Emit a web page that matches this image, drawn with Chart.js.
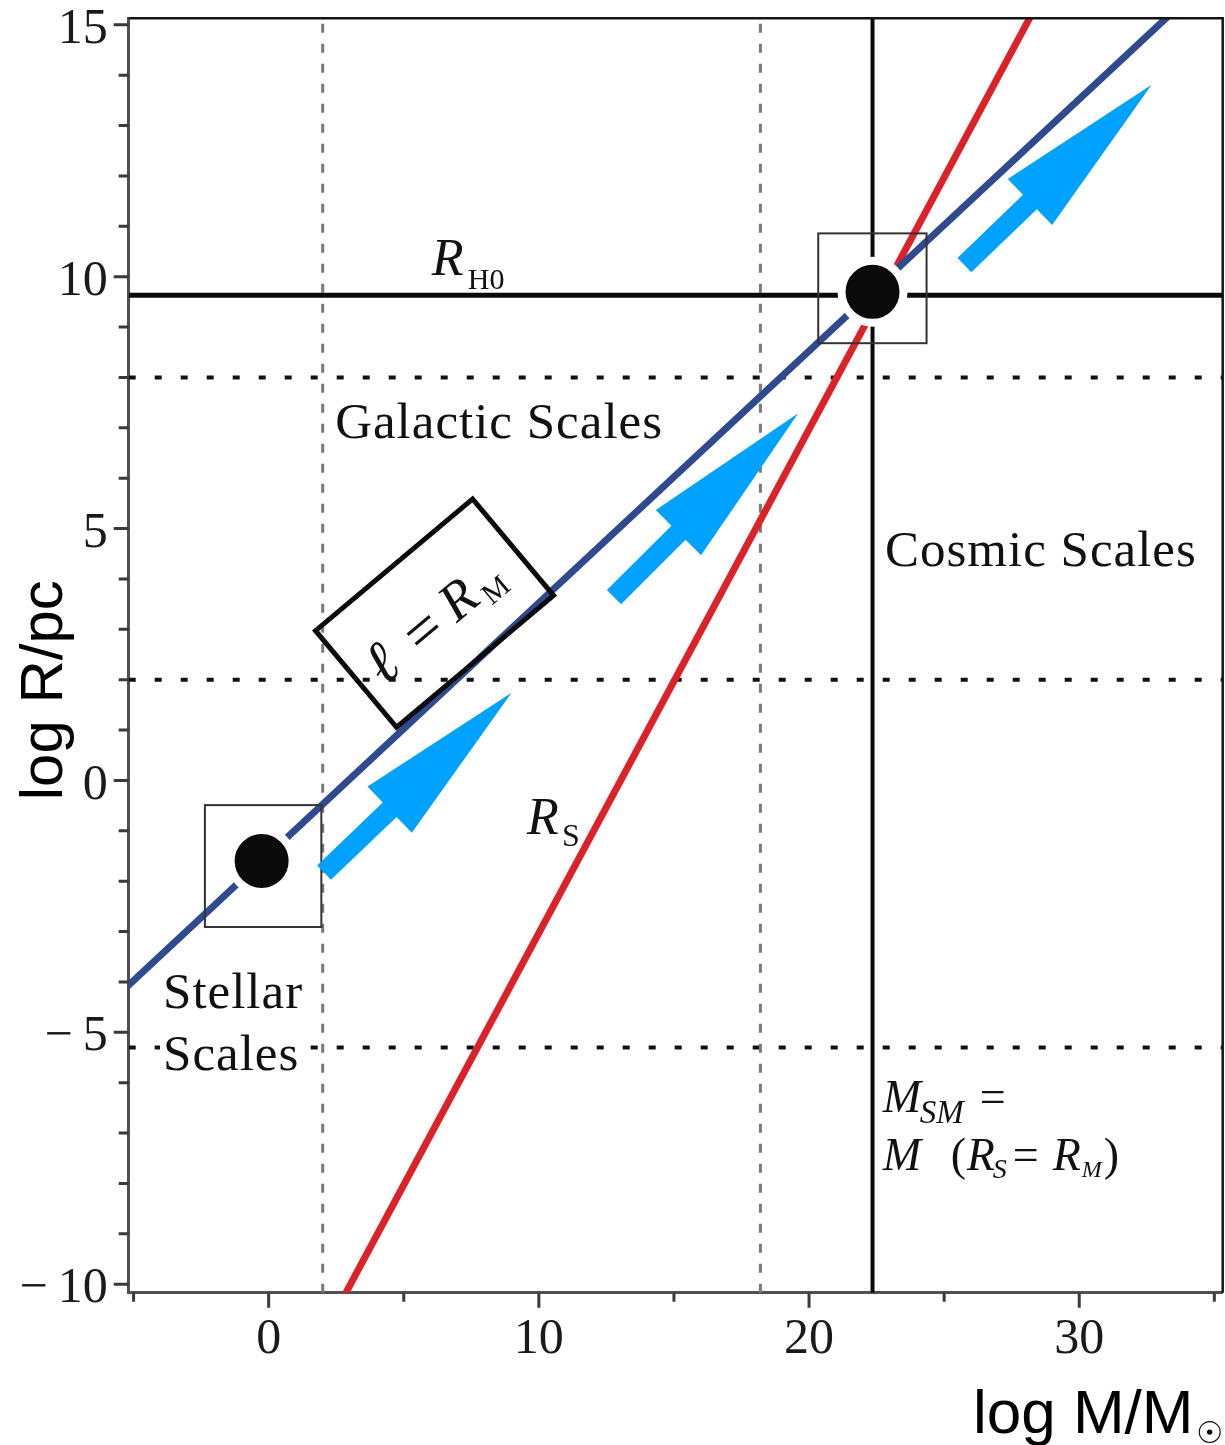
<!DOCTYPE html>
<html><head><meta charset="utf-8">
<script src="https://cdn.jsdelivr.net/npm/chart.js@4.4.0/dist/chart.umd.min.js"></script>
<style>html,body{margin:0;padding:0;background:#fff;}#wrap{width:1225px;height:1445px;}</style>
</head><body><div id="wrap"><canvas id="c" width="1225" height="1445"></canvas></div>
<script>
// ---- data ----
const xRange = [-5.18, 35.31];
const yRange = [-10.17, 15.13];
const xMajorTicks = [0, 10, 20, 30];
const xMinorTicks = [-5, 5, 15, 25, 35];
const yMajorTicks = [-10, -5, 0, 5, 10, 15];
const yMinorTicks = [-9, -8, -7, -6, -4, -3, -2, -1, 1, 2, 3, 4, 6, 7, 8, 9, 11, 12, 13, 14];
const rmLineX = [-6, 36];
const rmLineY = [-4.475, 16.525];
const rsLineX = [2.5, 28.5];
const rsLineY = [-10.53, 15.47];
const hubbleRadius = 9.63;
const smMass = 22.35;
const scaleBoundaryMass = [2, 18.2];
const scaleBoundaryRadius = [8, 2, -5.3];
const keyPointX = [-0.26, 22.35];
const keyPointY = [-1.6, 9.7];
const squareX0 = [-2.36, 20.34];
const squareX1 = [1.95, 24.35];
const squareY0 = [-2.91, 8.68];
const squareY1 = [-0.49, 10.86];
const arrowTailX = [2.05, 12.78, 25.75];
const arrowTailY = [-1.83, 3.64, 10.23];
const arrowTipX = [8.99, 19.60, 32.68];
const arrowTipY = [1.74, 7.29, 13.81];
const labelBoxCenter = [6.14, 3.32];

const SERIF = "'Liberation Serif', 'DejaVu Serif', serif";
const SANS = "'Liberation Sans', Arial, sans-serif";

function pts(xs, ys) { return xs.map((x, i) => ({x: x, y: ys[i]})); }
function fmt(v) { return v < 0 ? '\u2212\u2009' + Math.abs(v) : String(v); }

const lineBase = {showLine: true, pointRadius: 0, clip: 0, fill: false, tension: 0};
const datasets = [
  {data: pts(keyPointX, keyPointY), showLine: false, pointRadius: 31, pointBackgroundColor: '#0a0a0a',
   pointBorderColor: '#ffffff', pointBorderWidth: 8, clip: false},
  Object.assign({data: pts(rmLineX, rmLineY), borderColor: '#2f4a8f', borderWidth: 7}, lineBase),
  Object.assign({data: pts(rsLineX, rsLineY), borderColor: '#dc2229', borderWidth: 7}, lineBase),
  Object.assign({data: pts([xRange[0], xRange[1]], [hubbleRadius, hubbleRadius]), borderColor: '#0a0a0a', borderWidth: 5}, lineBase),
  Object.assign({data: pts([smMass, smMass], [yRange[0], yRange[1]]), borderColor: '#0a0a0a', borderWidth: 4}, lineBase)
];
scaleBoundaryMass.forEach(m => datasets.push(Object.assign({data: pts([m, m], [yRange[0], yRange[1]]),
  borderColor: '#7a7a7a', borderWidth: 3, borderDash: [9, 11]}, lineBase)));
scaleBoundaryRadius.forEach(r => datasets.push(Object.assign({data: pts([xRange[0], xRange[1]], [r, r]),
  borderColor: '#111111', borderWidth: 4, borderDash: [7, 19]}, lineBase)));

function drawPieces(ctx, x0, y0, pieces) {
  pieces.forEach(p => { ctx.font = p[1]; ctx.fillText(p[0], x0 + p[2], y0 + (p[3] || 0)); });
}

function drawArrow(ctx, x0, y0, x1, y1) {
  const dx = x1 - x0, dy = y1 - y0, L = Math.hypot(dx, dy);
  const ux = dx / L, uy = dy / L, nx = -uy, ny = ux;
  const head = 0.65 * L, sw = 10, hw = 32;
  const bx = x1 - ux * head, by = y1 - uy * head;
  ctx.beginPath();
  ctx.moveTo(x0 + nx * sw, y0 + ny * sw);
  ctx.lineTo(bx + nx * sw, by + ny * sw);
  ctx.lineTo(bx + nx * hw, by + ny * hw);
  ctx.lineTo(x1, y1);
  ctx.lineTo(bx - nx * hw, by - ny * hw);
  ctx.lineTo(bx - nx * sw, by - ny * sw);
  ctx.lineTo(x0 - nx * sw, y0 - ny * sw);
  ctx.closePath();
  ctx.fill();
}

const annotations = {
  id: 'annotations',
  afterDraw(chart) {
    const ctx = chart.ctx, xs = chart.scales.x, ys = chart.scales.y, a = chart.chartArea;
    const X = v => xs.getPixelForValue(v), Y = v => ys.getPixelForValue(v);
    ctx.save();
    // frame top/right
    ctx.strokeStyle = '#151515'; ctx.lineWidth = 2.5;
    ctx.beginPath(); ctx.moveTo(a.left, a.top); ctx.lineTo(a.right, a.top); ctx.lineTo(a.right, a.bottom); ctx.stroke();
    // tick marks
    ctx.strokeStyle = '#3a3a3a'; ctx.lineWidth = 3;
    ctx.beginPath();
    yMajorTicks.forEach(v => { ctx.moveTo(a.left - 15, Y(v)); ctx.lineTo(a.left, Y(v)); });
    yMinorTicks.forEach(v => { ctx.moveTo(a.left - 10, Y(v)); ctx.lineTo(a.left, Y(v)); });
    xMajorTicks.forEach(v => { ctx.moveTo(X(v), a.bottom); ctx.lineTo(X(v), a.bottom + 15); });
    xMinorTicks.forEach(v => { ctx.moveTo(X(v), a.bottom); ctx.lineTo(X(v), a.bottom + 9); });
    ctx.stroke();
    // squares
    ctx.strokeStyle = '#333'; ctx.lineWidth = 2;
    squareX0.forEach((x0, i) => {
      const l = X(x0), r = X(squareX1[i]), t = Y(squareY1[i]), b = Y(squareY0[i]);
      ctx.strokeRect(l, t, r - l, b - t);
    });
    // arrows
    ctx.fillStyle = '#00a2ff';
    arrowTailX.forEach((x0, i) => drawArrow(ctx, X(x0), Y(arrowTailY[i]), X(arrowTipX[i]), Y(arrowTipY[i])));
    // rotated label box
    ctx.save();
    ctx.translate(X(labelBoxCenter[0]), Y(labelBoxCenter[1]));
    ctx.rotate(-40 * Math.PI / 180);
    ctx.strokeStyle = '#0a0a0a'; ctx.lineWidth = 5;
    ctx.strokeRect(-102.5, -63, 205, 126);
    ctx.fillStyle = '#111';
    ctx.textBaseline = 'alphabetic'; ctx.textAlign = 'center';
    ctx.font = 'italic 60px ' + SERIF; ctx.fillText('\u2113', -73, 24);
    ctx.font = '62px ' + SERIF; ctx.fillText('=', -20, 26);
    ctx.font = 'italic 54px ' + SERIF; ctx.fillText('R', 27, 22);
    ctx.font = '30px ' + SERIF; ctx.fillText('M', 62, 31);
    ctx.restore();
    // text labels
    ctx.fillStyle = '#111'; ctx.textAlign = 'left'; ctx.textBaseline = 'alphabetic';
    drawPieces(ctx, X(6.04), Y(10.03), [['R', 'italic 52px ' + SERIF, 0], ['H0', '30px ' + SERIF, 36, 14]]);
    drawPieces(ctx, X(9.56), Y(-1.06), [['R', 'italic 52px ' + SERIF, 0], ['S', '32px ' + SERIF, 35, 12]]);
    ctx.letterSpacing = '1px';
    ctx.font = '51px ' + SERIF;
    ctx.fillText('Galactic Scales', X(2.46), Y(6.80));
    ctx.fillText('Cosmic Scales', X(22.81), Y(4.26));
    const sx = X(-3.91);
    ctx.fillStyle = '#fff';
    ctx.fillRect(sx - 3, Y(-5.75) - 38, 140, 46);
    ctx.fillStyle = '#111';
    ctx.fillText('Stellar', sx, Y(-4.52));
    ctx.fillText('Scales', sx, Y(-5.75));
    ctx.letterSpacing = '0px';
    const mi = 'italic 46px ' + SERIF, mu = '46px ' + SERIF;
    drawPieces(ctx, X(22.73), Y(-6.58), [['M', mi, 0], ['SM', 'italic 33px ' + SERIF, 37, 11], ['=', mu, 97]]);
    drawPieces(ctx, X(22.73), Y(-7.74), [['M', mi, 0], ['(', mu, 68], ['R', mi, 84], ['S', 'italic 28px ' + SERIF, 110, 8],
      ['=', mu, 130], ['R', mi, 170], ['M', 'italic 24px ' + SERIF, 199, 7], [')', mu, 221]]);
    // axis titles
    ctx.fillStyle = '#000';
    ctx.save();
    ctx.translate(62, Y(1.79)); ctx.rotate(-Math.PI / 2);
    ctx.textAlign = 'center'; ctx.font = '60px ' + SANS;
    ctx.fillText('log R/pc', 0, 0);
    ctx.restore();
    ctx.textAlign = 'left'; ctx.font = '62px ' + SANS;
    ctx.fillText('log M/M', 973, 1433);
    ctx.font = '30px "DejaVu Sans", sans-serif';
    ctx.fillText('\u2609', 1196, 1443);
    ctx.restore();
  }
};

function zeroPad(s) { s.paddingTop = 0; s.paddingBottom = 0; s.paddingLeft = 0; s.paddingRight = 0; }

new Chart(document.getElementById('c'), {
  type: 'scatter',
  data: {datasets: datasets},
  plugins: [annotations],
  options: {
    responsive: false, animation: false, devicePixelRatio: 1,
    layout: {autoPadding: false, padding: {top: 18.3, right: 2.3, left: 0, bottom: 0}},
    plugins: {legend: {display: false}, tooltip: {enabled: false}},
    scales: {
      x: {
        type: 'linear', min: xRange[0], max: xRange[1],
        afterBuildTicks: s => { s.ticks = xMajorTicks.map(v => ({value: v})); },
        afterFit: s => { s.height = 152.3; zeroPad(s); },
        grid: {display: false, drawTicks: false},
        border: {display: true, color: '#505050', width: 3},
        ticks: {font: {family: SERIF, size: 50}, color: '#1a1a1a', padding: 17, maxRotation: 0, autoSkip: false, callback: v => fmt(v)}
      },
      y: {
        type: 'linear', min: yRange[0], max: yRange[1],
        afterBuildTicks: s => { s.ticks = yMajorTicks.map(v => ({value: v})); },
        afterFit: s => { s.width = 128.7; zeroPad(s); },
        grid: {display: false, drawTicks: false},
        border: {display: true, color: '#505050', width: 3},
        ticks: {font: {family: SERIF, size: 50}, color: '#1a1a1a', padding: 21, labelOffset: 5, autoSkip: false, callback: v => fmt(v)}
      }
    }
  }
});
</script></body></html>
